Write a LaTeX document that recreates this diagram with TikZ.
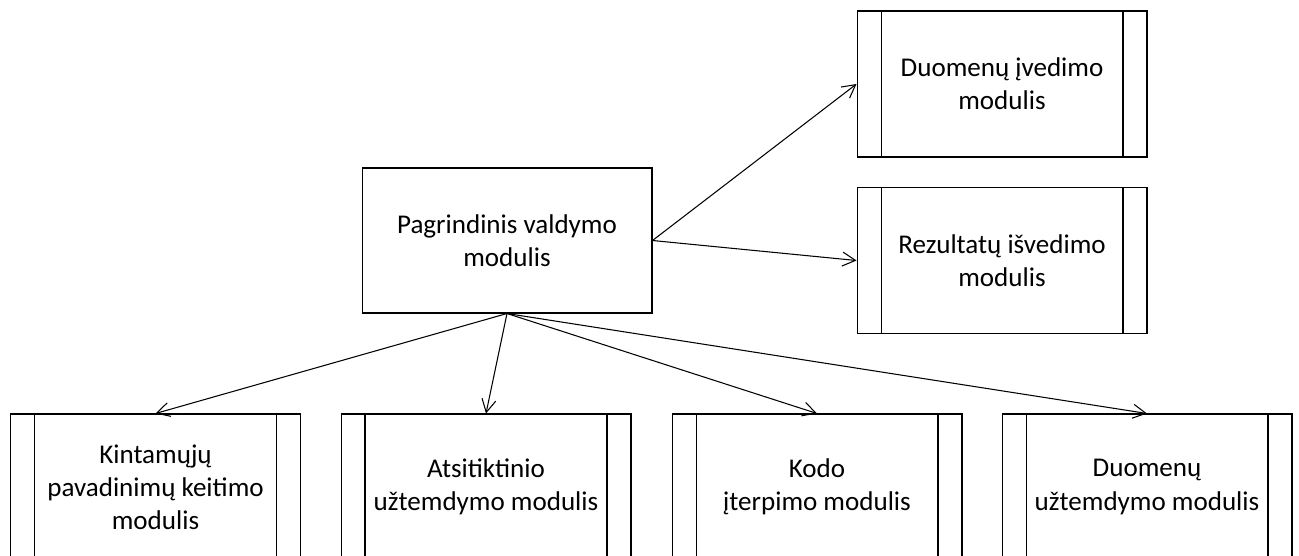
\documentclass[tikz,border=0pt]{standalone}
\usepackage{fontspec}
\setmainfont{Carlito}
\usepackage{tikz}
\usetikzlibrary{arrows.meta}

\begin{document}
\begin{tikzpicture}[x=0.02cm, y=-0.02cm, line width=0.6pt,
	>={Straight Barb[length=2.6mm,width=2.8mm]},
	mainmodule/.style={rectangle,draw,minimum width=5.8cm,minimum height=2.9cm,align=center,font=\fontsize{15.4}{18.8}\selectfont},
	module/.style={mainmodule,minimum height=2.92cm,
		path picture={\draw ([xshift=0.48cm]path picture bounding box.north west) -- ([xshift=0.48cm]path picture bounding box.south west);
			\draw ([xshift=-0.48cm]path picture bounding box.north east) -- ([xshift=-0.48cm]path picture bounding box.south east);}}]
	\useasboundingbox (0,0) rectangle (1299,555);
	\node[mainmodule] (M) at (507,240.5) {Pagrindinis valdymo\\modulis};
	\node[module] (IN) at (1002,84) {Duomenų įvedimo\\modulis};
	\node[module] (OUT) at (1002,260.5) {Rezultatų išvedimo\\modulis};
	\node[module] (B1) at (155.5,487) {Kintamųjų\\pavadinimų keitimo\\modulis};
	\node[module] (B2) at (486,487) {Atsitiktinio\\užtemdymo modulis};
	\node[module] (B3) at (817,487) {Kodo\\įterpimo modulis};
	\node[module] (B4) at (1147,487) {Duomenų\\užtemdymo modulis};
	\draw[->] (M.east) -- (IN.west);
	\draw[->] (M.east) -- (OUT.west);
	\draw[->] (M.south) -- (B1.north);
	\draw[->] (M.south) -- (B2.north);
	\draw[->] (M.south) -- (B3.north);
	\draw[->] (M.south) -- (B4.north);
\end{tikzpicture}
\end{document}
